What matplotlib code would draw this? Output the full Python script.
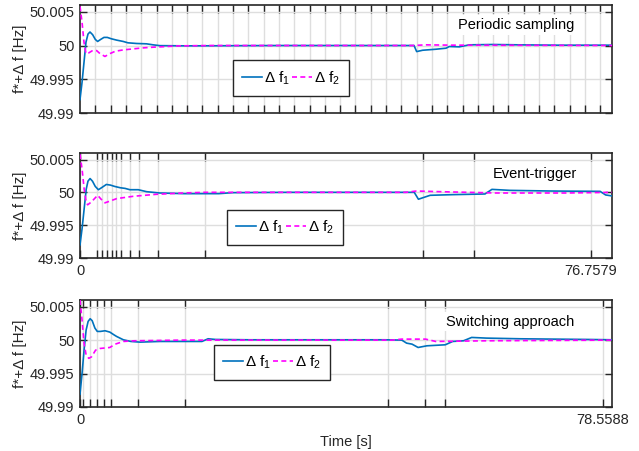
import matplotlib.pyplot as plt
import numpy as np

plt.rcParams['font.family'] = ['Liberation Sans', 'DejaVu Sans']
plt.rcParams['mathtext.fontset'] = 'custom'
plt.rcParams['mathtext.rm'] = 'Liberation Sans'
plt.rcParams['mathtext.it'] = 'Liberation Sans:italic'
plt.rcParams['xtick.direction'] = 'in'
plt.rcParams['ytick.direction'] = 'in'

# periodic sampling
t_per_f1 = [0, 0.3, 0.6, 0.9, 1.2, 1.5, 1.9, 2.3, 2.65, 3.1, 3.6, 4.1, 4.7, 5.5, 6.5, 7.2,
            8.5, 10.0, 11.0, 12.0, 16, 20, 30, 48, 50.2, 50.6, 51.5, 53.5, 55, 55.5, 57,
            58.5, 62, 66, 72, 80]
f_per_f1 = [49.9920, 49.9945, 49.9975, 50.0005, 50.0017, 50.0020, 50.0016, 50.0009,
            50.0006, 50.0009, 50.0012, 50.0012, 50.0010, 50.0008, 50.0006, 50.0004,
            50.0003, 50.00025, 50.0001, 49.99998, 49.99995, 49.99996, 50.0, 50.0, 50.0,
            49.9991, 49.9993, 49.99945, 49.9996, 49.99985, 49.9998, 50.0001, 50.00015,
            50.0001, 50.00005, 50.00005]
t_per_f2 = [0, 0.3, 0.6, 0.9, 1.3, 1.8, 2.5, 3.0, 3.75, 4.5, 5.3, 6.5, 8.0, 9.5, 11.0,
            13.0, 15.0, 20, 50, 52, 56, 80]
f_per_f2 = [50.0058, 50.0035, 50.0005, 49.9988, 49.9989, 49.9992, 49.99925, 49.9988,
            49.99838, 49.9988, 49.99915, 49.99935, 49.9995, 49.99965, 49.99975, 49.99985,
            49.99995, 50.0, 50.0, 50.0001, 50.00005, 50.0]
h_per = 2.3
t_end_per = 80

# event-trigger
t_ev_f1 = [0, 0.3, 0.6, 0.9, 1.15, 1.45, 1.8, 2.2, 2.65, 3.1, 3.8, 4.4, 5.0, 5.8, 6.5,
           7.2, 8.4, 9.6, 11.5, 15, 20, 22, 30, 48.2, 48.8, 49.5, 50.5, 53.8, 58.4, 59.4,
           62, 68, 75, 75.8, 76.7579]
f_ev_f1 = [49.9920, 49.9945, 49.9975, 50.0005, 50.0017, 50.0021, 50.0017, 50.0009,
           50.0004, 50.0007, 50.0012, 50.0011, 50.0009, 50.0007, 50.0006, 50.0004,
           50.0004, 50.0001, 49.9999, 49.9998, 49.9998, 49.99995, 50.0, 50.0, 49.99895,
           49.9992, 49.99955, 49.99965, 49.99975, 50.00045, 50.0003, 50.0002, 50.00015,
           49.9996, 49.99945]
t_ev_f2 = [0, 0.3, 0.6, 0.9, 1.1, 1.6, 2.55, 3.0, 3.6, 4.4, 5.3, 7.7, 11, 14.9, 18, 47,
           48.5, 52, 60, 70, 76.7579]
f_ev_f2 = [50.0058, 50.0035, 50.0005, 49.9985, 49.9981, 49.9985, 49.99955, 49.9990,
           49.9984, 49.9987, 49.99905, 49.9994, 49.9997, 49.9999, 50.0, 50.0, 50.0002,
           50.0001, 49.9999, 49.9999, 50.0]
ticks_ev = [0, 2.49, 3.17, 3.85, 4.57, 5.23, 5.91, 7.25, 8.55, 11.25, 18.02, 49.5, 56.86,
            73.64]
t_end_ev = 76.7579

# switching approach
t_sw_f1 = [0, 0.3, 0.6, 0.9, 1.2, 1.5, 1.8, 2.2, 2.55, 3.0, 3.7, 4.4, 5.0, 5.4, 6.4, 7.5,
           8.85, 11.8, 18, 18.9, 20, 25, 45, 47.5, 48.2, 49.0, 49.9, 51.2, 53.9, 55.0,
           56.6, 57.8, 60, 65, 75, 78.5588]
f_sw_f1 = [49.9919, 49.9950, 49.9985, 50.0015, 50.0028, 50.0032, 50.0029, 50.0018,
           50.0013, 50.0013, 50.0014, 50.0012, 50.0008, 50.00055, 50.00005, 49.9998,
           49.9997, 49.9998, 49.9998, 50.0002, 50.0001, 50.00005, 50.00005, 50.0,
           49.99955, 49.9994, 49.9989, 49.99915, 49.9993, 49.9998, 49.9999, 50.0004,
           50.0003, 50.0002, 50.0001, 50.00005]
t_sw_f2 = [0, 0.3, 0.6, 0.9, 1.3, 1.7, 2.3, 2.95, 4.4, 5.2, 6.4, 8, 15, 46, 47.5, 51,
           52.5, 60, 78.5588]
f_sw_f2 = [50.0060, 50.0030, 49.9995, 49.9978, 49.99727, 49.9975, 49.9985, 49.99875,
           49.9989, 49.9994, 49.9998, 49.9999, 50.0, 50.0, 50.00015, 50.00015, 49.9998,
           49.9999, 50.0]
ticks_sw = [0, 0.44, 1.52, 2.55, 3.59, 4.55, 8.56, 15.5, 45.4, 50.96, 53.94, 77.14]
t_end_sw = 78.5588

y_ticks = [49.99, 49.995, 50, 50.005]
y_labels = ['49.99', '49.995', '50', '50.005']

blue = '#0072BD'
magenta = '#FF00FF'
dark = '#262626'

fig = plt.figure(figsize=(6.39, 4.51), dpi=100)
rects = [[0.1252, 0.7494, 0.833, 0.2395],
         [0.1252, 0.4279, 0.833, 0.2330],
         [0.1252, 0.0976, 0.833, 0.2372]]

panels = [
    (t_per_f1, f_per_f1, t_per_f2, f_per_f2, list(np.arange(h_per, t_end_per, h_per)),
     t_end_per, 'Periodic sampling', (0.82, 0.815), (0.397, 0.324), None),
    (t_ev_f1, f_ev_f1, t_ev_f2, f_ev_f2, ticks_ev, t_end_ev, 'Event-trigger',
     (0.855, 0.797), (0.385, 0.29), '76.7579'),
    (t_sw_f1, f_sw_f1, t_sw_f2, f_sw_f2, ticks_sw, t_end_sw, 'Switching approach',
     (0.808, 0.797), (0.361, 0.416), '78.5588'),
]

for rect, (t1, f1, t2, f2, xt, xend, title, tpos, lpos, endlab) in zip(rects, panels):
    ax = fig.add_axes(rect)
    ax.plot(t1, f1, color=blue, lw=1.2, label='Δ f$_1$', zorder=3)
    ax.plot(t2, f2, color=magenta, lw=1.2, ls=(0, (3, 2)), label='Δ f$_2$', zorder=3)
    ax.set_xlim(0, xend)
    ax.set_ylim(49.99, 50.006)
    ax.set_yticks(y_ticks)
    ax.set_yticklabels(y_labels)
    ax.set_xticks(xt)
    if endlab is None:
        ax.set_xticklabels([''] * len(xt))
    else:
        labs = [''] * len(xt)
        labs[0] = '0'
        labs[-1] = endlab
        ax.set_xticklabels(labs)
    ax.tick_params(top=True, right=True, labelsize=10.5, colors=dark, length=5, width=1,
                   pad=4)
    ax.tick_params(axis='x', length=6)
    ax.grid(True, color='#dedede', lw=1, zorder=0)
    for s in ax.spines.values():
        s.set_color(dark)
        s.set_linewidth(1.2)
    ax.set_ylabel('f*+Δ f [Hz]', fontsize=11, color=dark, labelpad=2)
    ax.text(tpos[0], tpos[1], title, transform=ax.transAxes, ha='center', va='center',
            fontsize=10.5, color='black', zorder=4,
            bbox=dict(facecolor='white', edgecolor='none', pad=2))
    leg = ax.legend(loc='center', bbox_to_anchor=lpos, ncol=2, fontsize=11,
                    fancybox=False, edgecolor=dark, framealpha=1, handlelength=1.3,
                    handletextpad=0.12, columnspacing=0.15, borderpad=0.6,
                    borderaxespad=0)
    leg.get_frame().set_linewidth(1.0)
    if title == 'Switching approach':
        ax.set_xlabel('Time [s]', fontsize=10.5, color=dark, labelpad=6)

plt.savefig('out.png', dpi=100)
